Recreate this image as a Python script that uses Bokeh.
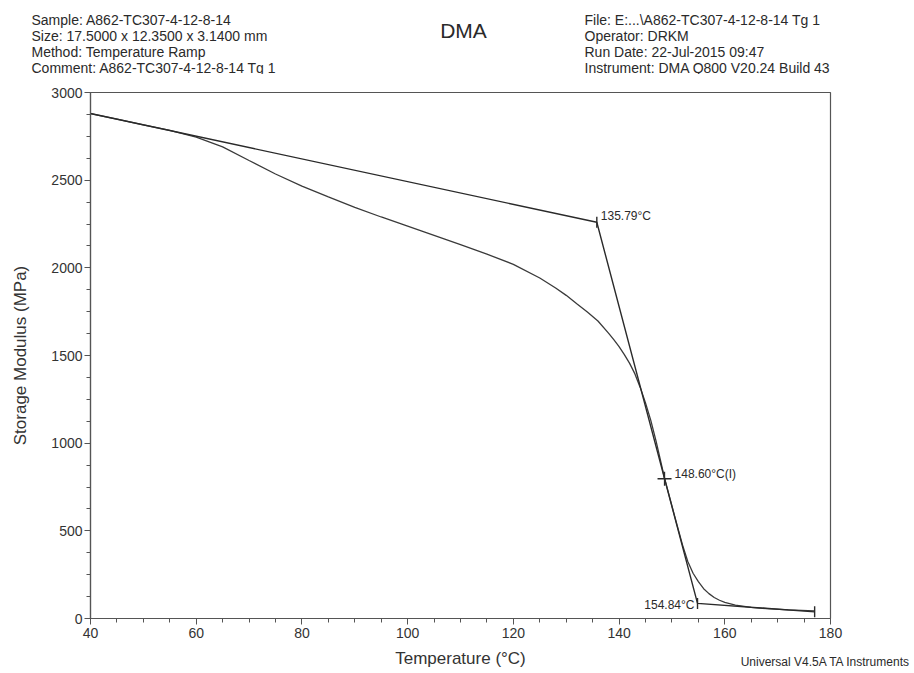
from bokeh.plotting import figure
from bokeh.models import Range1d, SingleIntervalTicker, Label
from bokeh.layouts import column
from bokeh.core.properties import value
from bokeh.embed import file_html
from bokeh.resources import INLINE
import math

# ---- data ----
temp = [40, 45, 50, 55, 60, 65, 70, 75, 80, 85, 90, 95, 100, 105, 110, 115, 120,
        125, 128, 130, 132, 134, 136, 138, 139, 140, 141, 142, 143, 144, 145, 146,
        147, 148, 148.6, 149, 150, 151, 152, 153, 154, 155, 156, 157, 158, 159, 160,
        162, 165, 168, 172, 177]
modulus = [2880, 2848, 2815, 2784, 2745, 2690, 2612, 2535, 2466, 2405, 2345, 2290,
           2238, 2185, 2132, 2078, 2020, 1942, 1885, 1843, 1795, 1748, 1697, 1628,
           1590, 1550, 1505, 1455, 1395, 1318, 1230, 1130, 1012, 880, 800, 755, 642,
           530, 420, 325, 258, 210, 170, 142, 120, 104, 92, 76, 64, 56, 49, 43]

onset_t = [40, 135.79, 154.84, 177]
onset_m = [2880, 2260, 86, 38]
tick_t = [135.79, 154.84, 177]
tick_m = [2260, 86, 38]
infl_t = [148.60]
infl_m = [797]
ann_text = ["135.79°C", "148.60°C(I)", "154.84°C"]
ann_t = [135.79, 148.60, 154.84]
ann_m = [2260, 797, 86]

header_left = ["Sample: A862-TC307-4-12-8-14",
               "Size:  17.5000 x 12.3500 x 3.1400 mm",
               "Method: Temperature Ramp",
               "Comment: A862-TC307-4-12-8-14 Tg 1"]
header_right = ["File: E:...\\A862-TC307-4-12-8-14 Tg 1",
                "Operator: DRKM",
                "Run Date: 22-Jul-2015 09:47",
                "Instrument: DMA Q800 V20.24 Build 43"]
title_text = "DMA"
footer_text = "Universal V4.5A TA Instruments"

FONT = "Liberation Sans"
INK = "#2a2a2a"

W = 912
HH = 74                       # header strip height
H = 670 - HH                  # main figure height
FL, FR = 90, 830              # frame left/right (px)
FT_PAGE, FB_PAGE = 92, 619    # frame top/bottom on the page


def no_align(fig):
    try:
        fig.frame_align = False
    except Exception:
        pass


# ---- header strip: a pixel-space figure holding the page texts ----
hdr = figure(width=W, height=HH, output_backend="svg", toolbar_location=None,
             x_range=Range1d(0, W), y_range=Range1d(HH, 0),
             x_axis_type=None, y_axis_type=None,
             min_border=0, min_border_left=0, min_border_right=0,
             min_border_top=0, min_border_bottom=0)
hdr.outline_line_color = None
hdr.xgrid.visible = False
hdr.ygrid.visible = False
hdr.background_fill_color = "white"
hdr.border_fill_color = "white"
no_align(hdr)

line_y = [19, 35, 51, 67]
hdr.text(x=[31] * 4, y=line_y, text=header_left, text_align="left",
         text_baseline="alphabetic", text_font=value(FONT),
         text_font_size="14px", text_color=INK)
hdr.text(x=[584] * 4, y=line_y, text=header_right, text_align="left",
         text_baseline="alphabetic", text_font=value(FONT),
         text_font_size="14px", text_color=INK)
hdr.text(x=[463], y=[30], text=[title_text], text_align="center",
         text_baseline="alphabetic", text_font=value(FONT),
         text_font_size="21px", text_color=INK)

# ---- main chart ----
p = figure(width=W, height=H, output_backend="svg", toolbar_location=None,
           x_range=Range1d(40, 180), y_range=Range1d(0, 3000),
           min_border_left=FL, min_border_right=W - FR,
           min_border_top=FT_PAGE - HH, min_border_bottom=HH + H - FB_PAGE)
no_align(p)
p.background_fill_color = "white"
p.border_fill_color = "white"
p.outline_line_color = "#555555"
p.outline_line_width = 1.2
p.xgrid.visible = False
p.ygrid.visible = False

for ax in (p.xaxis[0], p.yaxis[0]):
    ax.axis_line_color = "#555555"
    ax.axis_line_width = 1.2
    ax.major_tick_line_color = "#555555"
    ax.minor_tick_line_color = "#555555"
    ax.major_tick_in = 0
    ax.major_tick_out = 6
    ax.minor_tick_in = 0
    ax.minor_tick_out = 4
    ax.major_label_text_font = FONT
    ax.major_label_text_font_size = "14px"
    ax.major_label_text_color = "#333333"
    ax.axis_label_text_font = FONT
    ax.axis_label_text_font_size = "17px"
    ax.axis_label_text_font_style = "normal"
    ax.axis_label_text_color = "#333333"

p.xaxis.ticker = SingleIntervalTicker(interval=20, num_minor_ticks=4)
p.yaxis.ticker = SingleIntervalTicker(interval=500, num_minor_ticks=4)
p.xaxis.axis_label = "Temperature (°C)"
p.yaxis.axis_label = "Storage Modulus (MPa)"
p.xaxis.major_label_standoff = 3
p.yaxis.major_label_standoff = 2
p.xaxis.axis_label_standoff = 8
p.yaxis.axis_label_standoff = 18

p.line(temp, modulus, line_color="#3a3a3a", line_width=1.3)
p.line(onset_t, onset_m, line_color=INK, line_width=1.4)
p.scatter(tick_t, tick_m, marker="dash", angle=math.pi / 2, size=11,
          line_color=INK, line_width=1.4)
p.scatter(infl_t, infl_m, marker="cross", size=14, line_color=INK, line_width=1.3)

offsets = [(4, 6, "left"), (10, 5, "left"), (-3, -2, "right")]
for txt, tx, my, (dx, dy, al) in zip(ann_text, ann_t, ann_m, offsets):
    p.add_layout(Label(x=tx, y=my, text=txt, x_offset=dx, y_offset=dy,
                       text_align=al, text_baseline="middle",
                       text_font=FONT, text_font_size="12px", text_color=INK))

# footer: placed in the side panel above the frame (not clipped), shifted down
# to the bottom-right corner of the page; y is measured up from the frame top
p.add_layout(Label(x=910 - FL, y=FT_PAGE - 661, x_units="screen", y_units="screen",
                   text=footer_text, text_align="right", text_baseline="alphabetic",
                   text_font=FONT, text_font_size="12px", text_color=INK), "above")

page = column(hdr, p, spacing=0)
open("out.html", "w").write(file_html(page, INLINE))
